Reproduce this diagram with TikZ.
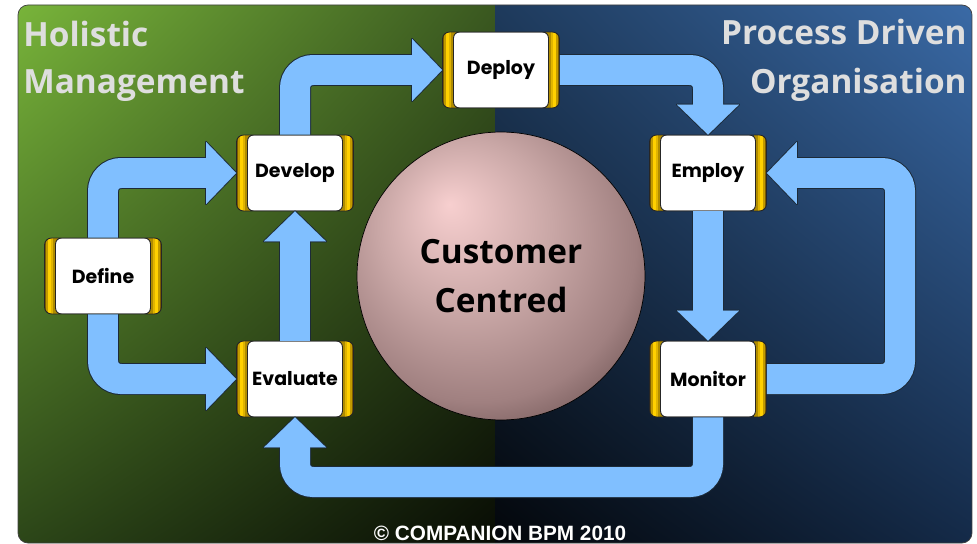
\documentclass[tikz,border=0pt]{standalone}
\usepackage{fontspec}
\setmainfont{Open Sans}
\newfontfamily\stagefont{Poppins}
\newfontfamily\creditfont{Liberation Sans}
\usetikzlibrary{shadings}

\definecolor{flowblue}{HTML}{80BFFF}
\definecolor{flowedge}{HTML}{1C2A38}
\definecolor{golddeep}{HTML}{7A5C00}
\definecolor{goldwarm}{HTML}{C29A00}
\definecolor{goldlight}{HTML}{FFD000}
\definecolor{goldsoft}{HTML}{E0B400}
\definecolor{goldmid}{HTML}{B08C00}
\definecolor{titlegray}{HTML}{DEDEDE}
\definecolor{spherehi}{HTML}{F7CFCF}
\definecolor{spheremid}{HTML}{C9A7A6}
\definecolor{spherelow}{HTML}{A08080}
\definecolor{sphereshade}{HTML}{6E5454}
\definecolor{spheredark}{HTML}{3A2828}
\definecolor{greenul}{RGB}{120,180,58}
\definecolor{greenur}{RGB}{58,88,32}
\definecolor{greenll}{RGB}{44,70,24}
\definecolor{greenlr}{RGB}{8,12,4}
\definecolor{blueul}{RGB}{30,58,92}
\definecolor{blueur}{RGB}{58,106,166}
\definecolor{bluell}{RGB}{3,6,10}
\definecolor{bluelr}{RGB}{20,42,72}

% the path box maps to the middle 50bp of a shading
\pgfdeclareradialshading{sphere}{\pgfpoint{-9bp}{12.5bp}}{%
  color(0bp)=(spherehi); color(15bp)=(spheremid); color(27.5bp)=(spherelow);
  color(35bp)=(sphereshade); color(41bp)=(spheredark); color(50bp)=(spheredark)}

\begin{document}
\begin{tikzpicture}[x=0.02cm,y=-0.02cm,
  stage/.style={rectangle, rounded corners=0.14cm, draw=black!85, line width=0.5pt,
    minimum width=2.34cm, minimum height=1.52cm, inner sep=0pt,
    font=\stagefont\bfseries\fontsize{10.8}{13}\selectfont,
    path picture={
      % gold caps, in bands from the outer edge inwards
      \foreach \a/\b/\k in {0/0.03/golddeep, 0.03/0.06/goldwarm, 0.06/0.12/goldlight,
                            0.12/0.16/goldsoft, 0.16/0.26/goldmid}{
        \fill[\k, sharp corners] ([xshift=\a cm]path picture bounding box.south west)
          rectangle ([xshift=\b cm]path picture bounding box.north west);
        \fill[\k, sharp corners] ([xshift=-\a cm]path picture bounding box.south east)
          rectangle ([xshift=-\b cm]path picture bounding box.north east);
      }
      \draw[fill=white, draw=black!85, line width=0.5pt, rounded corners=0.12cm]
        ([xshift=0.22cm]path picture bounding box.south west)
        rectangle ([xshift=-0.22cm]path picture bounding box.north east);
    }},
  title/.style={text=titlegray, inner sep=0pt, font=\bfseries\fontsize{19}{21}\selectfont},
  flow/.style={line width=#1, rounded corners=0.36cm, shorten >=0.58cm},
  head/.pic={\path[pic actions] (0,0) -- (-0.6cm,0.62cm) -- (-0.6cm,-0.62cm) -- cycle;}]

\useasboundingbox (0,0) rectangle (977,544);

% two panels
\begin{scope}
\clip[rounded corners=0.2cm] (18,5) rectangle (972,543);
\shade[upper left=greenul, upper right=greenur, lower left=greenll, lower right=greenlr]
  (18,5) rectangle (495,543);
\shade[upper left=blueul, upper right=blueur, lower left=bluell, lower right=bluelr]
  (495,5) rectangle (972,543);
\end{scope}
\draw[black!75, rounded corners=0.2cm] (18,5) rectangle (972,543);

% titles
\node[title, anchor=base west] (holistic) at (23,47) {Holistic};
\node[title, anchor=base west] (management) at (23,93) {Management};
\node[title, anchor=base east] (process) at (967,45) {Process Driven};
\node[title, anchor=base east] (organisation) at (967,93) {Organisation};

% centre
\node[circle, minimum size=5.76cm, inner sep=0pt, draw=black, shading=sphere,
  align=center, font=\bfseries\fontsize{19}{27.8}\selectfont] (hub) at (501,276) {Customer\\Centred};

% stages
\node[stage] (define) at (103,276) {Define};
\node[stage] (develop) at (295,173) {Develop};
\node[stage] (evaluate) at (295,379) {Evaluate};
\node[stage] (deploy) at (501,70) {Deploy};
\node[stage] (employ) at (708,173) {Employ};
\node[stage] (monitor) at (708,379) {Monitor};

\coordinate (backturn) at (900,276);
\coordinate (underturn) at (500,482);

% arrows: outline pass, then fill pass
\foreach \lw/\col/\hw in {0.64cm/flowedge/0.04cm, 0.6cm/flowblue/0.01pt}{
  \tikzset{headpass/.style={fill=\col, draw=\col, line width=\hw, line join=round}}
  \draw[flow=\lw, draw=\col] (define.north) |- (develop.west);
  \draw[flow=\lw, draw=\col] (define.south) |- (evaluate.west);
  \draw[flow=\lw, draw=\col] (evaluate.north) -- (develop.south);
  \draw[flow=\lw, draw=\col] (develop.north) |- (deploy.west);
  \draw[flow=\lw, draw=\col] (deploy.east) -| (employ.north);
  \draw[flow=\lw, draw=\col] (employ.south) -- (monitor.north);
  \draw[flow=\lw, draw=\col] (monitor.east) -- (monitor.east -| backturn)
    -- (employ.east -| backturn) -- (employ.east);
  \draw[flow=\lw, draw=\col] (monitor.south) |- (underturn) -| (evaluate.south);
  \pic[headpass] at (develop.west) {head};
  \pic[headpass] at (evaluate.west) {head};
  \pic[headpass, rotate=90] at (develop.south) {head};
  \pic[headpass] at (deploy.west) {head};
  \pic[headpass, rotate=-90] at (employ.north) {head};
  \pic[headpass, rotate=-90] at (monitor.north) {head};
  \pic[headpass, rotate=180] at (employ.east) {head};
  \pic[headpass, rotate=90] at (evaluate.south) {head};
}

\node[anchor=base, text=white, inner sep=0pt,
  font=\creditfont\bfseries\fontsize{11.8}{13}\selectfont] (credit) at (500,540) {© COMPANION BPM 2010};

\end{tikzpicture}
\end{document}
